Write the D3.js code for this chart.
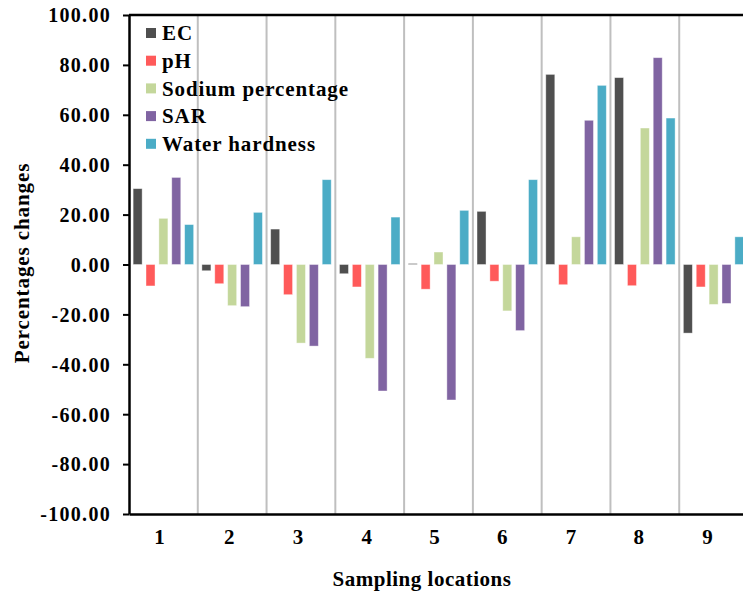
<!DOCTYPE html>
<html><head><meta charset="utf-8">
<script src="https://cdn.jsdelivr.net/npm/d3@7"></script>
<style>body{margin:0;background:#fff;} svg{display:block;font-family:"Liberation Serif","Times New Roman",serif;font-weight:bold;}</style>
</head><body><div id="chart"></div>
<script>
const categories = ["1","2","3","4","5","6","7","8","9"];
const seriesNames = ["EC","pH","Sodium percentage","SAR","Water hardness"];
const seriesColors = ["#4f4f4f","#ff5a5a","#c4d79b","#8064a2","#4bacc6"];
const EC = [30.4,-2.5,14.2,-3.7,0.4,21.3,76.2,74.9,-27.5];
const pH = [-8.6,-7.7,-12.1,-9.0,-9.9,-6.7,-8.1,-8.5,-9.0];
const sodium = [18.5,-16.5,-31.5,-37.6,5.0,-18.6,11.1,54.7,-16.0];
const SAR = [34.9,-16.9,-32.7,-50.7,-54.3,-26.5,57.8,82.9,-15.6];
const hardness = [16.0,20.9,34.0,19.0,21.7,34.0,71.8,58.7,11.1];
const yTicks = [100,80,60,40,20,0,-20,-40,-60,-80,-100];
const seriesValues = [EC,pH,sodium,SAR,hardness];

const W=743,H=591;
const m={left:129,right:748,top:15,bottom:514};
const svg=d3.select("#chart").append("svg").attr("width",W).attr("height",H);

const x=d3.scaleBand().domain(categories).range([m.left,m.right]).paddingInner(0).paddingOuter(0);
const xs=d3.scaleBand().domain(seriesNames).range([0,x.bandwidth()]).paddingInner(0.3).paddingOuter(0.32);
const y=d3.scaleLinear().domain([-100,100]).range([m.bottom,m.top]);

// vertical dividers
svg.append("g").selectAll("line").data(categories.slice(1)).join("line")
  .attr("x1",d=>x(d)).attr("x2",d=>x(d)).attr("y1",m.top).attr("y2",m.bottom)
  .attr("stroke","#bfbfbf").attr("stroke-width",2);

// bars
const data=[];
categories.forEach((c,i)=>seriesNames.forEach((s,j)=>data.push({c,s,v:seriesValues[j][i],col:seriesColors[j]})));
svg.append("g").selectAll("rect").data(data).join("rect")
  .attr("x",d=>x(d.c)+xs(d.s)).attr("width",xs.bandwidth())
  .attr("y",d=>Math.min(y(d.v),y(0))).attr("height",d=>Math.max(Math.abs(y(d.v)-y(0)),0.8))
  .attr("fill",d=>d.col).attr("stroke","#ffffff").attr("stroke-opacity",0.5).attr("stroke-width",0.8);

// y axis
const yAxis=svg.append("g").attr("transform",`translate(${m.left},0)`)
  .call(d3.axisLeft(y).tickValues(yTicks).tickFormat(d=>d.toFixed(2)).tickSize(6).tickSizeOuter(0));
yAxis.select(".domain").attr("stroke","#000").attr("stroke-width",2.5);
yAxis.selectAll(".tick line").attr("stroke","#000").attr("stroke-width",2);
yAxis.selectAll(".tick text").attr("font-family","Liberation Serif, serif").attr("font-weight","bold")
  .attr("font-size",20).attr("letter-spacing",1.3).attr("fill","#000").attr("x",-18).attr("dy","0.34em");

// top and bottom lines
svg.append("line").attr("x1",m.left).attr("x2",W).attr("y1",m.top).attr("y2",m.top).attr("stroke","#000").attr("stroke-width",2.5);
const xAxis=svg.append("g").attr("transform",`translate(0,${m.bottom})`)
  .call(d3.axisBottom(x).tickSize(0).tickSizeOuter(0));
xAxis.select(".domain").attr("stroke","#000").attr("stroke-width",2.5);
xAxis.selectAll(".tick text").attr("font-family","Liberation Serif, serif").attr("font-weight","bold")
  .attr("font-size",21).attr("fill","#000").attr("dy","1.3em");
xAxis.selectAll(".tick text").attr("x",(d,i)=>[-4,-3,-3,-3,-4,-5,-5,-6,-6][i]);

// axis titles
svg.append("text").attr("x",422).attr("y",586).attr("text-anchor","middle")
  .attr("font-size",21).attr("letter-spacing",0.5).text("Sampling locations");
svg.append("text").attr("transform","translate(29,263) rotate(-90)").attr("text-anchor","middle")
  .attr("font-size",21).attr("letter-spacing",0.9).text("Percentages changes");

// legend
const lg=svg.append("g");
seriesNames.forEach((s,i)=>{
  const cy=33+i*27.7;
  lg.append("rect").attr("x",146).attr("y",cy-5).attr("width",10).attr("height",10).attr("fill",seriesColors[i]);
  lg.append("text").attr("x",162).attr("y",cy).attr("dy","0.35em").attr("font-size",21).attr("letter-spacing",0.9).text(s);
});
</script></body></html>
